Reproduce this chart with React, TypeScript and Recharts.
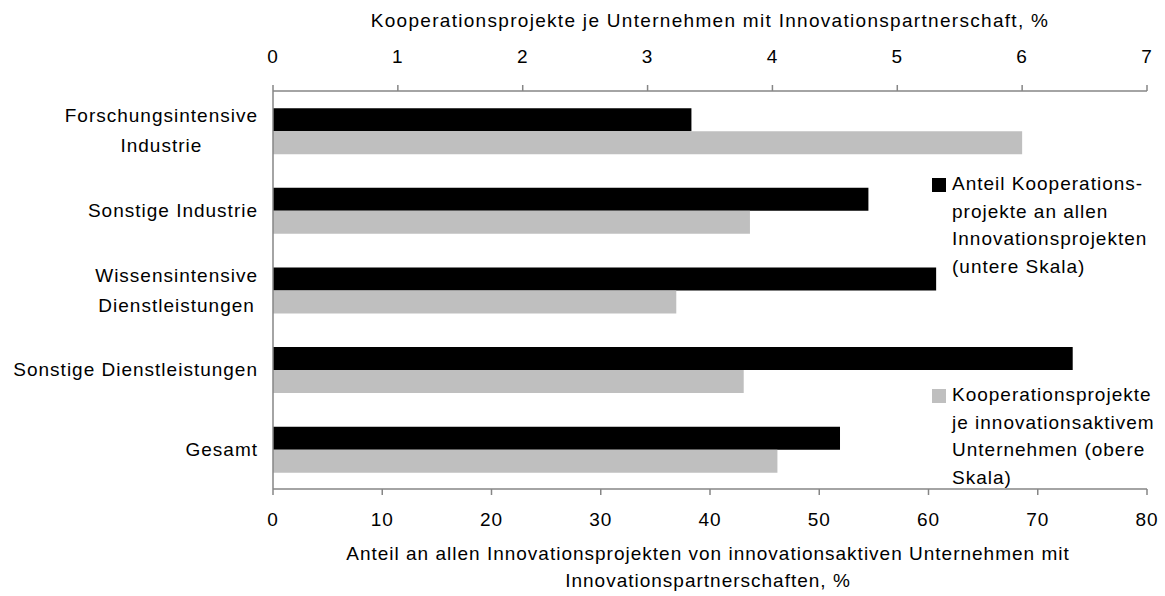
import React from 'react';
import { BarChart, Bar, XAxis, YAxis } from 'recharts';

const categories = [
  'Forschungsintensive\nIndustrie',
  'Sonstige Industrie',
  'Wissensintensive\nDienstleistungen',
  'Sonstige Dienstleistungen',
  'Gesamt',
];
const shareOfProjects = [38.3, 54.5, 60.7, 73.2, 51.9];
const projectsPerFirm = [6.0, 3.82, 3.23, 3.77, 4.04];
const bottomTicks = [0, 10, 20, 30, 40, 50, 60, 70, 80];
const topTicks = [0, 1, 2, 3, 4, 5, 6, 7];
const shareName = 'Anteil Kooperations-\nprojekte an allen\nInnovationsprojekten\n(untere Skala)';
const perFirmName = 'Kooperationsprojekte\nje innovationsaktivem\nUnternehmen (obere\nSkala)';
const topTitle = 'Kooperationsprojekte je Unternehmen mit Innovationspartnerschaft, %';
const bottomTitle = [
  'Anteil an allen Innovationsprojekten von innovationsaktiven Unternehmen mit',
  'Innovationspartnerschaften, %',
];

const data = categories.map((c, i) => ({
  category: c,
  share: shareOfProjects[i],
  perFirm: projectsPerFirm[i],
}));

const FONT = '"Liberation Sans", Arial, sans-serif';
const FS = 19;
const LS = 1;
const AXIS = '#868686';

let ctx: CanvasRenderingContext2D | null = null;
function measure(s: string): number {
  if (!ctx) {
    const c = document.createElement('canvas');
    ctx = c.getContext('2d');
  }
  if (!ctx) return s.length * FS * 0.5;
  ctx.font = `${FS}px "Liberation Sans"`;
  return ctx.measureText(s).width + LS * s.length;
}

const CategoryTick = (props: any) => {
  const { x, y, payload } = props;
  const lines: string[] = String(payload.value).split('\n');
  const right = x - 7;
  const w = Math.max(...lines.map(measure));
  const cx = right - w / 2;
  const lh = 30;
  const start = y - ((lines.length - 1) * lh) / 2;
  return (
    <g>
      {lines.map((l, i) => (
        <text
          key={i}
          x={lines.length > 1 ? cx : right}
          y={start + i * lh}
          textAnchor={lines.length > 1 ? 'middle' : 'end'}
          dominantBaseline="central"
          fontFamily={FONT}
          fontSize={FS}
          letterSpacing={LS}
          fill="#000"
        >
          {l}
        </text>
      ))}
    </g>
  );
};

const LegendBox = () => {
  const items = [
    { name: shareName, color: '#000000', top: 170 },
    { name: perFirmName, color: '#bfbfbf', top: 381 },
  ];
  return (
    <>
      {items.map((it, i) => (
        <div key={i} style={{ position: 'absolute', left: 930, top: it.top, fontFamily: FONT, fontSize: FS, letterSpacing: LS, color: '#000' }}>
          <div style={{ position: 'absolute', left: 2, top: 8, width: 14, height: 14, background: it.color }} />
          <div style={{ position: 'absolute', left: 22, top: 0, whiteSpace: 'pre', lineHeight: '27.5px' }}>{it.name}</div>
        </div>
      ))}
    </>
  );
};

const TopTitle = (props: any) => {
  const vb = props.viewBox;
  return (
    <text x={vb.x + vb.width / 2} y={vb.y + 20} textAnchor="middle" dominantBaseline="central" fontFamily={FONT} fontSize={FS} letterSpacing={1.3} fill="#000">
      {topTitle}
    </text>
  );
};

const BottomTitle = (props: any) => {
  const vb = props.viewBox;
  const cx = vb.x + vb.width / 2 - 2;
  return (
    <g>
      {bottomTitle.map((t, i) => (
        <text key={i} x={cx} y={553 + i * 27} textAnchor="middle" dominantBaseline="central" fontFamily={FONT} fontSize={FS} letterSpacing={LS} fill="#000">
          {t}
        </text>
      ))}
    </g>
  );
};

export default function App() {
  return (
    <div style={{ position: 'absolute', left: 0, top: 0, width: 1165, height: 596, background: '#fff' }}>
      <BarChart
        width={1165}
        height={596}
        data={data}
        layout="vertical"
        margin={{ top: 0, right: 18, left: 0, bottom: 0 }}
        barCategoryGap="21.7%"
        barGap={0}
      >
        <XAxis
          xAxisId="top"
          orientation="top"
          type="number"
          domain={[0, 7]}
          ticks={topTicks}
          height={91}
          axisLine={{ stroke: AXIS, strokeWidth: 1.5 }}
          tickLine={{ stroke: AXIS, strokeWidth: 1.5 }}
          tickSize={6}
          tickMargin={22}
          tick={{ fill: '#000', fontSize: FS, fontFamily: FONT, letterSpacing: LS }}
          label={<TopTitle />}
          allowDecimals={false}
        />
        <XAxis
          xAxisId="bottom"
          orientation="bottom"
          type="number"
          domain={[0, 80]}
          ticks={bottomTicks}
          height={107}
          axisLine={{ stroke: AXIS, strokeWidth: 1.5 }}
          tickLine={{ stroke: AXIS, strokeWidth: 1.5 }}
          tickSize={6}
          tickMargin={18}
          tick={{ fill: '#000', fontSize: FS, fontFamily: FONT, letterSpacing: LS }}
          label={<BottomTitle />}
        />
        <YAxis
          type="category"
          dataKey="category"
          width={273}
          axisLine={{ stroke: AXIS, strokeWidth: 1.5 }}
          tickLine={false}
          tick={<CategoryTick />}
          interval={0}
        />
        <Bar xAxisId="bottom" dataKey="share" name={shareName} fill="#000000" isAnimationActive={false} />
        <Bar xAxisId="top" dataKey="perFirm" name={perFirmName} fill="#bfbfbf" isAnimationActive={false} />
      </BarChart>
      <LegendBox />
    </div>
  );
}
